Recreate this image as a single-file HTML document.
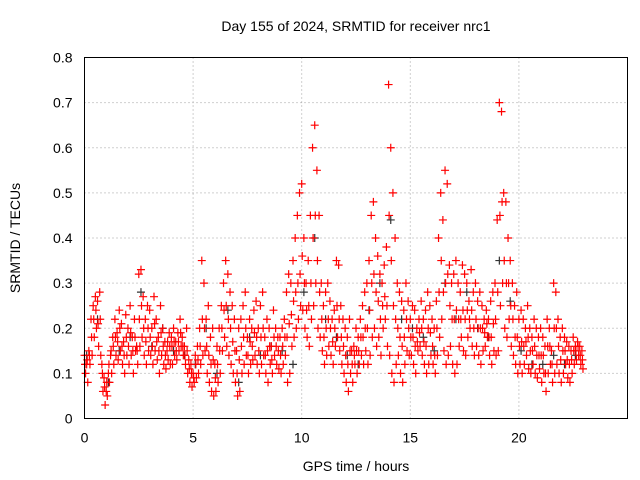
<!DOCTYPE html>
<html><head><meta charset="utf-8"><style>
body{margin:0;background:#fff;}
svg{display:block;font-family:"Liberation Sans",sans-serif;}
</style></head><body>
<svg id="chart" width="640" height="480">
<text x="356" y="31" font-size="14" text-anchor="middle">Day 155 of 2024, SRMTID for receiver nrc1</text>
<text x="20" y="238" font-size="14" text-anchor="middle" transform="rotate(-90 20 238)">SRMTID / TECUs</text>
<text x="356" y="471" font-size="14" text-anchor="middle">GPS time / hours</text>
<g id="grid"></g><g id="marks"></g><g id="axes"></g>
</svg>
<script>
const xTicks=[0,5,10,15,20];
const yTicks=[0,0.1,0.2,0.3,0.4,0.5,0.6,0.7,0.8];
const yTickLabels=["0","0.1","0.2","0.3","0.4","0.5","0.6","0.7","0.8"];
const seriesA=[.14,.12,.15,.22,.25,.27,.26,.28,.12,.09,
.06,.10,.14,.18,.22,.19,.24,.21,.17,.23,
.20,.25,.18,.22,.16,.32,.33,.27,.22,.25,
.24,.20,.27,.22,.18,.25,.20,.17,.15,.19,
.18,.20,.17,.19,.22,.18,.16,.20,.13,.12,
.10,.14,.16,.20,.35,.30,.22,.25,.18,.20,
.12,.16,.20,.25,.30,.35,.32,.28,.25,.22,
.15,.20,.22,.25,.28,.18,.22,.20,.24,.26,
.20,.25,.28,.18,.22,.20,.16,.24,.20,.18,
.18,.20,.22,.28,.32,.30,.35,.40,.45,.50,
.52,.40,.30,.35,.45,.60,.65,.55,.45,.30,
.25,.28,.30,.26,.22,.24,.35,.34,.25,.22,
.20,.18,.22,.15,.16,.20,.18,.22,.25,.28,
.30,.35,.45,.48,.40,.36,.32,.30,.34,.38,
.74,.60,.50,.40,.30,.28,.26,.24,.30,.26,
.22,.25,.24,.20,.22,.26,.22,.24,.28,.25,
.22,.20,.26,.40,.50,.44,.55,.52,.34,.30,
.32,.35,.30,.28,.34,.32,.30,.26,.33,.28,
.30,.26,.28,.25,.22,.24,.22,.26,.28,.30,
.44,.70,.68,.50,.48,.40,.35,.30,.25,.28,
.22,.24,.22,.20,.25,.20,.18,.22,.20,.18,
.20,.18,.16,.22,.20,.15,.30,.28,.22,.18,
.20,.18,.17,.16,.15,.18,.16,.17,.16,.15];
const seriesB=[.10,.08,.12,.14,.18,.20,.16,.14,.06,.03,
.05,.08,.10,.12,.14,.13,.15,.12,.10,.14,
.12,.14,.10,.15,.12,.16,.18,.14,.12,.15,
.14,.12,.15,.13,.10,.14,.12,.11,.13,.12,
.12,.14,.13,.15,.16,.14,.12,.10,.08,.07,
.08,.09,.10,.12,.14,.15,.10,.08,.06,.05,
.06,.08,.10,.15,.18,.16,.14,.12,.10,.08,
.05,.06,.10,.12,.14,.10,.12,.13,.14,.12,
.10,.12,.14,.10,.08,.12,.10,.14,.12,.11,
.10,.12,.14,.08,.10,.16,.18,.20,.22,.25,
.24,.20,.18,.16,.22,.25,.30,.20,.18,.15,
.12,.14,.16,.14,.12,.16,.18,.15,.12,.10,
.08,.06,.10,.08,.12,.10,.12,.14,.12,.15,
.12,.14,.18,.20,.16,.18,.14,.20,.22,.16,
.14,.10,.08,.12,.14,.10,.08,.12,.15,.14,
.14,.12,.10,.15,.16,.14,.12,.10,.12,.14,
.12,.10,.14,.18,.22,.15,.12,.14,.16,.12,
.10,.12,.16,.18,.15,.14,.18,.20,.16,.14,
.16,.14,.12,.15,.16,.18,.14,.12,.15,.14,
.15,.25,.30,.20,.18,.22,.16,.14,.12,.10,
.12,.10,.12,.14,.11,.10,.12,.10,.09,.11,
.08,.10,.06,.10,.12,.08,.10,.12,.10,.08,
.10,.12,.09,.08,.10,.12,.13,.14,.12,.11];
const seriesC=[.12,.13,.14,.18,.22,.24,.21,.22,.10,.07,
.08,.12,.15,.16,.18,.17,.20,.16,.14,.18,
.16,.19,.15,.18,.15,.22,.25,.20,.17,.20,
.18,.16,.21,.17,.15,.19,.16,.14,.17,.16,
.16,.17,.15,.17,.19,.16,.14,.15,.11,.10,
.09,.12,.13,.16,.22,.20,.16,.14,.12,.13,
.09,.12,.15,.20,.24,.25,.22,.20,.17,.15,
.10,.13,.16,.18,.20,.14,.17,.16,.19,.18,
.15,.18,.20,.14,.15,.16,.13,.18,.16,.15,
.14,.16,.18,.18,.21,.23,.26,.28,.30,.32,
.36,.30,.24,.25,.30,.40,.45,.35,.28,.22,
.18,.20,.22,.20,.17,.20,.25,.22,.18,.16,
.14,.12,.15,.12,.14,.15,.15,.18,.18,.20,
.20,.24,.30,.32,.28,.26,.22,.25,.27,.25,
.45,.35,.25,.22,.20,.18,.16,.18,.22,.20,
.18,.18,.16,.17,.19,.20,.17,.16,.20,.19,
.16,.14,.20,.28,.35,.28,.30,.32,.25,.22,
.22,.24,.22,.22,.24,.22,.24,.22,.24,.20,
.22,.20,.20,.20,.19,.21,.18,.18,.21,.22,
.28,.45,.48,.35,.30,.30,.25,.22,.18,.18,
.16,.17,.16,.17,.18,.15,.15,.16,.14,.14,
.14,.14,.10,.16,.16,.12,.20,.20,.16,.13,
.15,.15,.13,.12,.13,.15,.15,.16,.14,.13];
const seriesBlack=[.14,.22,.08,.15,.18,.28,.16,.20,.15,.14,.12,.20,.10,.24,.08,.18,.14,.16,.15,.12,.28,.40,.22,.18,.14,.12,.24,.30,.44,.22,.20,.18,.15,.30,.22,.28,.20,.18,.35,.26,.15,.12,.12,.14,.12,.14];
const X0=84.5,X1=627.5,Y0=418.5,Y1=57.5;
const xs=v=>X0+(v/25)*(X1-X0);
const ys=v=>Y0-(v/0.8)*(Y0-Y1);
const NS="http://www.w3.org/2000/svg";
function mk(tag,parent,attrs){const e=document.createElementNS(NS,tag);for(const k in attrs)e.setAttribute(k,attrs[k]);parent.appendChild(e);return e;}
const grid=document.getElementById('grid'),marks=document.getElementById('marks'),axes=document.getElementById('axes');
xTicks.forEach(t=>{const x=xs(t);
 if(t>0){const g=mk('line',grid,{x1:x,x2:x,y1:Y0,y2:Y1,stroke:'#a0a0a0','stroke-dasharray':'1,3'});
 
 }
 const l=mk('text',axes,{x:x,y:Y0+24,'font-size':14,'text-anchor':'middle'});l.textContent=t;
 
 
});
yTicks.forEach((t,i)=>{const y=ys(t);
 if(i>0&&i<yTicks.length-1){const g=mk('line',grid,{x1:X0,x2:X1,y1:y,y2:y,stroke:'#a0a0a0','stroke-dasharray':'1,3'});
 
 }
 const l=mk('text',axes,{x:X0-12,y:y+5,'font-size':14,'text-anchor':'end'});l.textContent=yTickLabels[i];
 
 
});
function plus(x,y,color,name){const p=mk('path',marks,{d:`M${x-4},${y}h8M${x},${y-4}v8`,stroke:color,'stroke-width':1.2});
 
 }
seriesBlack.forEach((v,i)=>plus(xs(i*0.5+0.1),ys(v),'#333','black-point'));
seriesA.forEach((v,i)=>plus(xs(i*0.1),ys(v),'#f00','red-point'));
seriesB.forEach((v,i)=>plus(xs(i*0.1+0.05),ys(v),'#f00','red-point'));
seriesC.forEach((v,i)=>plus(xs(i*0.1+0.025),ys(v),'#f00','red-point'));
const fr=mk('rect',axes,{x:X0,y:Y1,width:X1-X0,height:Y0-Y1,fill:'none',stroke:'#000','stroke-width':1});


</script>
</body></html>
